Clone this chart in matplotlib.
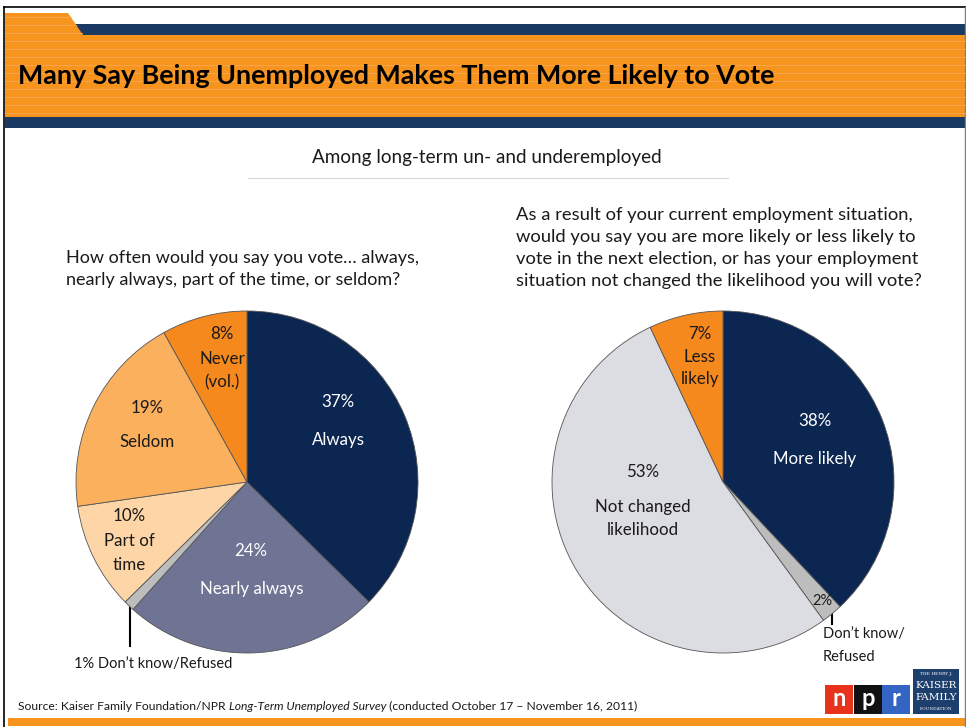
import matplotlib

matplotlib.use("Agg")

import matplotlib.pyplot as plt
from matplotlib.patches import Polygon, Rectangle

W, H = 966, 727

# left pie: how often do you vote
vote_labels = ["Always", "Nearly always", "Don't know/Refused", "Part of time", "Seldom", "Never (vol.)"]
vote_values = [37, 24, 1, 10, 19, 8]
vote_colors = ["#0b2650", "#6f7394", "#bdbdbd", "#fdd5a6", "#fbb05e", "#f5891e"]

# right pie: effect of employment situation
effect_labels = ["More likely", "Don't know/Refused", "Not changed likelihood", "Less likely"]
effect_values = [38, 2, 53, 7]
effect_colors = ["#0b2650", "#bdbdbd", "#dcdce3", "#f5891e"]

FONT = ["Lato", "DejaVu Sans"]
ORANGE = "#f7941d"
NAVY = "#1a3a63"
plt.rcParams["font.family"] = FONT


def fx(x, y):
    # pixel position -> figure fraction
    return x / W, 1 - y / H


def put(x, y, s, **kw):
    kw.setdefault("ha", "center")
    kw.setdefault("va", "center")
    kw.setdefault("fontsize", 12.2)
    kw.setdefault("color", "#1a1a1a")
    return fig.text(*fx(x, y), s, **kw)


def pie_axes(cx, cy, r):
    return fig.add_axes([(cx - r) / W, (H - cy - r) / H, 2 * r / W, 2 * r / H])


fig = plt.figure(figsize=(W / 100, H / 100), dpi=100)
fig.patch.set_facecolor("white")
renderer = fig.canvas.get_renderer()

bg = fig.add_axes([0, 0, 1, 1])
bg.set_xlim(0, W)
bg.set_ylim(H, 0)
bg.axis("off")

# slide border
bg.plot([4, W], [7, 7], color="black", lw=1.2)
bg.plot([4, 4], [7, H], color="black", lw=1.2)
bg.plot([W - 1.5, W - 1.5], [7, H], color="#7f7f7f", lw=1)

# header band
bg.add_patch(Rectangle((73, 24), W - 73, 12, color=NAVY, lw=0))
bg.add_patch(Polygon([(5, 13), (68, 13), (83, 35), (W, 35), (W, 117), (5, 117)], closed=True, color=ORANGE, lw=0))
for yy in range(17, 117, 8):
    x1 = W if yy > 35 else 68 + (yy - 13) * 15 / 22
    bg.plot([5, x1], [yy, yy], color="#f9aa55", lw=0.8, alpha=0.8)
bg.add_patch(Rectangle((5, 117), W - 5, 11, color=NAVY, lw=0))
put(18, 76, "Many Say Being Unemployed Makes Them More Likely to Vote",
    ha="left", fontsize=19.4, fontweight="bold", color="black")

# bottom bar
bg.add_patch(Rectangle((8, 718), W - 8, 8, color=ORANGE, lw=0))

# subtitle
put(487, 158, "Among long-term un- and underemployed", fontsize=13.6)
bg.plot([248, 728], [178, 178], color="#d9d9d9", lw=0.8)

# questions
put(66, 269, "How often would you say you vote\u2026 always,\nnearly always, part of the time, or seldom?",
    ha="left", fontsize=13, linespacing=1.48)
put(516, 248, "As a result of your current employment situation,\n"
    "would you say you are more likely or less likely to\n"
    "vote in the next election, or has your employment\n"
    "situation not changed the likelihood you will vote?",
    ha="left", fontsize=13.2, linespacing=1.48)

wedge_style = dict(edgecolor="#555555", linewidth=0.6)

ax1 = pie_axes(247, 482, 171)
ax1.pie(vote_values, colors=vote_colors, startangle=90, counterclock=False, wedgeprops=wedge_style)
ax1.set_xlim(-1, 1)
ax1.set_ylim(-1, 1)

ax2 = pie_axes(723, 482, 171)
ax2.pie(effect_values, colors=effect_colors, startangle=90, counterclock=False, wedgeprops=wedge_style)
ax2.set_xlim(-1, 1)
ax2.set_ylim(-1, 1)

# left pie labels
put(338, 402, f"{vote_values[0]}%", color="white")
put(338, 440, "Always", color="white")
put(251, 551, f"{vote_values[1]}%", color="white")
put(252, 589, "Nearly always", color="white")
put(129, 516, f"{vote_values[3]}%")
put(129, 541, "Part of")
put(129, 565, "time")
put(147, 408, f"{vote_values[4]}%")
put(147, 442, "Seldom")
put(222, 334, f"{vote_values[5]}%")
put(222, 359, "Never")
put(222, 382, "(vol.)")
bg.plot([130, 130], [607, 646], color="black", lw=1.5)
put(74, 664, f"{vote_values[2]}% Don\u2019t know/Refused", ha="left", fontsize=10.5)

# right pie labels
put(700, 334, f"{effect_values[3]}%")
put(700, 357, "Less")
put(700, 379, "likely")
put(815, 421, f"{effect_values[0]}%", color="white")
put(815, 459, "More likely", color="white")
put(643, 472, f"{effect_values[2]}%")
put(643, 507, "Not changed")
put(643, 530, "likelihood")
put(822, 601, f"{effect_values[1]}%", fontsize=10.5)
bg.plot([832, 832], [614, 624], color="black", lw=1.5)
put(823, 634, "Don\u2019t know/", ha="left", fontsize=10.5)
put(823, 657, "Refused", ha="left", fontsize=10.5)

# source line, pieces placed one after another
x = 18
for piece, style in [("Source: Kaiser Family Foundation/NPR ", "normal"),
                     ("Long-Term Unemployed Survey", "italic"),
                     (" (conducted October 17 \u2013 November 16, 2011)", "normal")]:
    t = put(x, 706, piece, ha="left", fontsize=8.75, style=style)
    x += t.get_window_extent(renderer).width

# logos
for x0, c, letter in [(825, "#e8331c", "n"), (854, "#111111", "p"), (882, "#3465c4", "r")]:
    bg.add_patch(Rectangle((x0, 685), 28, 29, color=c, lw=0))
    put(x0 + 14, 698, letter, color="white", fontsize=17, fontweight="bold")
bg.add_patch(Rectangle((913, 669), 46, 45, color="#1d3f6e", lw=0))
put(936, 674, "THE HENRY J.", color="white", fontsize=3.2, family="DejaVu Serif")
put(936, 685, "KAISER", color="white", fontsize=7.5, family="DejaVu Serif")
put(936, 697, "FAMILY", color="white", fontsize=7.5, family="DejaVu Serif")
put(936, 709, "FOUNDATION", color="white", fontsize=3.2, family="DejaVu Serif")

fig.savefig("out.png", dpi=100, facecolor="white")
